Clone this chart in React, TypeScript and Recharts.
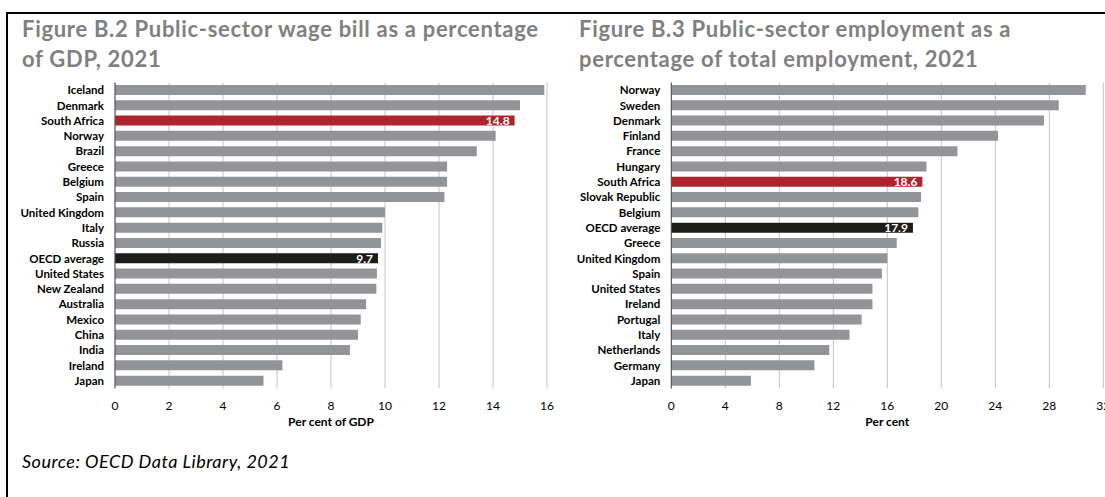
import React from 'react';
import { BarChart, Bar, XAxis, YAxis, CartesianGrid, Cell, LabelList } from 'recharts';

// Figure B.2 - wage bill, % of GDP
const wageCountries = [
  'Iceland', 'Denmark', 'South Africa', 'Norway', 'Brazil', 'Greece', 'Belgium', 'Spain',
  'United Kingdom', 'Italy', 'Russia', 'OECD average', 'United States', 'New Zealand',
  'Australia', 'Mexico', 'China', 'India', 'Ireland', 'Japan',
];
const wageValues = [
  15.9, 15.0, 14.8, 14.1, 13.4, 12.3, 12.3, 12.2, 10.0, 9.9, 9.85, 9.74, 9.7, 9.68,
  9.3, 9.1, 9.0, 8.7, 6.2, 5.5,
];
const wageTicks = [0, 2, 4, 6, 8, 10, 12, 14, 16];

// Figure B.3 - public employment, % of total employment
const empCountries = [
  'Norway', 'Sweden', 'Denmark', 'Finland', 'France', 'Hungary', 'South Africa',
  'Slovak Republic', 'Belgium', 'OECD average', 'Greece', 'United Kingdom', 'Spain',
  'United States', 'Ireland', 'Portugal', 'Italy', 'Netherlands', 'Germany', 'Japan',
];
const empValues = [
  30.7, 28.7, 27.6, 24.2, 21.2, 18.9, 18.6, 18.5, 18.3, 17.9, 16.7, 16.0, 15.6,
  14.9, 14.9, 14.1, 13.2, 11.7, 10.6, 5.9,
];
const empTicks = [0, 4, 8, 12, 16, 20, 24, 28, 32];

const GREY = '#939498';
const RED = '#ad242e';
const BLACK = '#1d1d1b';
const FONT = 'Lato, "Open Sans", sans-serif';

const barColor = (name: string) =>
  name === 'South Africa' ? RED : name === 'OECD average' ? BLACK : GREY;

const BarLabel = (props: any) => {
  const { x, y, width, height, value } = props;
  if (value == null) return null;
  return (
    <text
      x={x + width - 5}
      y={y + height / 2}
      textAnchor="end"
      dominantBaseline="central"
      fill="#ffffff"
      fontSize={12}
      fontWeight={700}
      fontFamily={FONT}
    >
      {value}
    </text>
  );
};

interface PanelProps {
  names: string[];
  values: number[];
  ticks: number[];
  axisTitle: string;
  yWidth: number;
  rightMargin: number;
}

const Panel: React.FC<PanelProps> = ({ names, values, ticks, axisTitle, yWidth, rightMargin }) => {
  const data = names.map((name, i) => ({
    name,
    value: values[i],
    label: name === 'South Africa' || name === 'OECD average' ? values[i].toFixed(1) : undefined,
  }));

  return (
    <BarChart
      width={560}
      height={440}
      data={data}
      layout="vertical"
      margin={{ top: 82.5, right: rightMargin, bottom: 21.5, left: 0 }}
      barCategoryGap="16%"
    >
      <CartesianGrid horizontal={false} stroke="#c4c4c4" />
      <XAxis
        type="number"
        domain={[ticks[0], ticks[ticks.length - 1]]}
        ticks={ticks}
        interval={0}
        height={30}
        axisLine={false}
        tickLine={false}
        tickSize={0}
        tickMargin={13}
        tick={{ fill: '#000', fontSize: 12, fontFamily: FONT }}
        label={{
          value: axisTitle,
          position: 'bottom',
          offset: -1,
          fill: '#000',
          fontSize: 12,
          fontWeight: 700,
          fontFamily: FONT,
        }}
      />
      <YAxis
        type="category"
        dataKey="name"
        width={yWidth}
        interval={0}
        axisLine={{ stroke: '#4d4d4d' }}
        tickLine={false}
        tickSize={0}
        tickMargin={11}
        tick={{ fill: '#000', fontSize: 11.5, fontWeight: 700, fontFamily: FONT }}
      />
      <Bar dataKey="value" isAnimationActive={false}>
        {data.map(d => (
          <Cell key={d.name} fill={barColor(d.name)} />
        ))}
        <LabelList dataKey="label" content={<BarLabel />} />
      </Bar>
    </BarChart>
  );
};

const titleStyle: React.CSSProperties = {
  position: 'absolute',
  top: 14,
  fontFamily: FONT,
  fontWeight: 700,
  fontSize: 22,
  letterSpacing: 0.7,
  lineHeight: '30px',
  color: '#808080',
  whiteSpace: 'nowrap',
};

export default function App() {
  return (
    <div
      style={{
        position: 'absolute',
        left: 0,
        top: 0,
        width: 1105,
        height: 497,
        overflow: 'hidden',
        background: '#fff',
      }}
    >
      {/* frame */}
      <div
        style={{
          position: 'absolute',
          left: 6,
          top: 12,
          width: 1105,
          height: 500,
          borderTop: '2px solid #000',
          borderLeft: '2px solid #000',
        }}
      />

      <div style={{ ...titleStyle, left: 22 }}>
        Figure B.2 Public-sector wage bill as a percentage
        <br />
        of GDP, 2021
      </div>
      <div style={{ ...titleStyle, left: 579 }}>
        Figure B.3 Public-sector employment as a
        <br />
        percentage of total employment, 2021
      </div>

      <div style={{ position: 'absolute', left: 0, top: 0 }}>
        <Panel
          names={wageCountries}
          values={wageValues}
          ticks={wageTicks}
          axisTitle="Per cent of GDP"
          yWidth={115}
          rightMargin={13}
        />
      </div>
      <div style={{ position: 'absolute', left: 560, top: 0 }}>
        <Panel
          names={empCountries}
          values={empValues}
          ticks={empTicks}
          axisTitle="Per cent"
          yWidth={111.3}
          rightMargin={16.7}
        />
      </div>

      <div
        style={{
          position: 'absolute',
          left: 22,
          top: 450,
          fontFamily: FONT,
          fontStyle: 'italic',
          fontSize: 18,
          letterSpacing: 0.5,
          color: '#000',
          whiteSpace: 'nowrap',
        }}
      >
        Source: OECD Data Library, 2021
      </div>
    </div>
  );
}
